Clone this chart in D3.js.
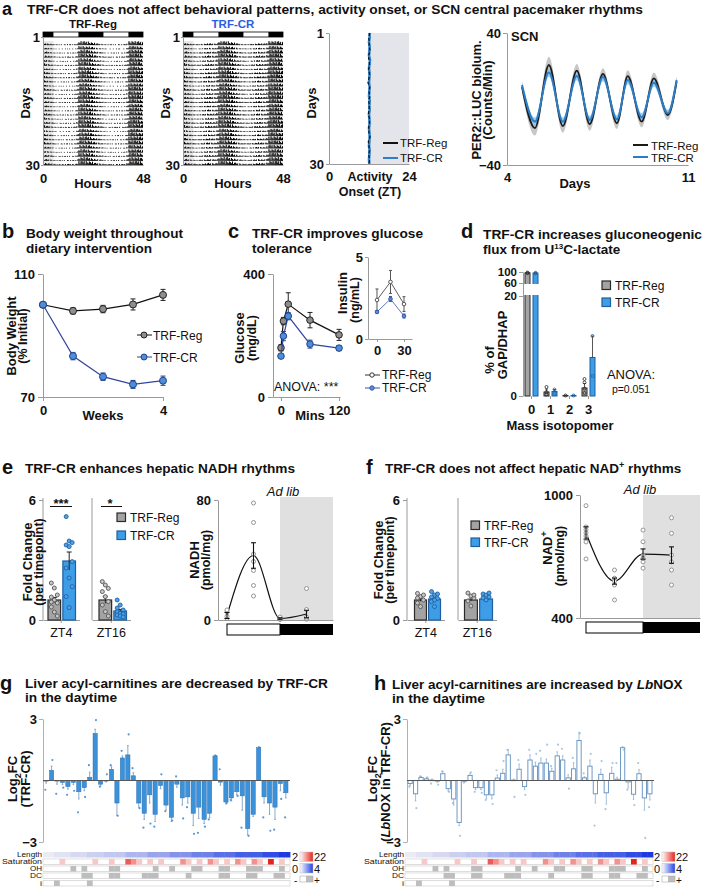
<!DOCTYPE html>
<html><head><meta charset="utf-8">
<script src="https://cdn.jsdelivr.net/npm/d3@7"></script>
<style>body{margin:0;background:#fff}svg{font-family:"Liberation Sans",Arial,Helvetica,sans-serif}</style>
</head><body><svg id="fig" width="705" height="887"></svg>
<script>
// ================= DATA =================
const ldDark = [[0,5],[17,29],[41,48]];
const actoReg = [0.55,0.45,0.4,0.35,0.3,0.25,0.2,0.2,0.22,0.2,0.2,0.22,0.22,0.2,0.22,0.25,0.4,0.95,1,1,0.95,0.9,0.85,0.7];
const actoCR  = [0.6,0.5,0.4,0.35,0.3,0.3,0.25,0.25,0.3,0.3,0.35,0.4,0.45,0.4,0.4,0.4,0.55,1,1,1,1,0.95,0.85,0.75];
const actoDay = [0.9,0.7,0.85,1,0.8,0.95,0.75,0.9,1,0.85,0.7,0.95,0.8,1,0.9,0.75,0.85,0.95,0.8,0.9,1,0.7,0.85,0.9,0.95,0.8,0.75,0.9,0.85,1];
const actoTex = [1,0.55,0.85,0.3,0.95,0.6,0.4,0.9,0.7,0.5,1,0.35,0.8];
const onsetReg = [12.3,11.9,12.1,12.0,12.4,11.8,12.0,12.2,11.9,12.1,12.0,11.7,12.2,12.0,12.3,11.9,12.1,12.0,11.8,12.2,12.1,11.9,12.0,12.3,11.8,12.0,12.1,11.9,12.2,12.0];
const onsetCR  = [12.1,12.2,12.0,12.2,12.1,12.0,12.3,12.1,12.0,12.2,12.1,12.0,12.2,12.1,12.0,12.2,12.1,12.2,12.0,12.1,12.2,12.0,12.1,12.2,12.1,12.0,12.2,12.1,12.0,12.1];
const scnDays  = [4.58,5.08,5.62,6.16,6.70,7.20,7.71,8.25,8.67,9.21,9.68,10.22,10.56];
const scnReg   = [7.3,-17.6,20.6,-16.4,17.2,-15.2,15.2,-14.7,13.9,-13.7,12.5,-9.7,10.5];
const scnRegSem= [3,4.5,5,4,4,4,3.5,3.5,3.5,3.5,3.5,3,3];
const scnCR    = [8.5,-13.7,16,-13.7,13.9,-12.7,13.3,-12.3,11.5,-11.1,9.9,-8.7,11.5];
const scnCRSem = [2,2.5,2.5,2.5,2.5,2.5,2.5,2.5,2.5,2.5,2.5,2,2];
const weeks = [0,1,2,3,4];
const bwReg = [100,98,98.6,100.1,103.2];
const bwRegErr = [0,1,1.2,1.8,1.8];
const bwCR = [100,83.3,76.6,74.1,75.3];
const bwCRErr = [0,1.2,1.2,1.3,1.5];
const gttMins = [0,5,15,60,120];
const gttReg = [160,247,302,250,202];
const gttRegErr = [10,12,37,25,18];
const gttCR = [133,198,263,172,159];
const gttCRErr = [5,15,12,13,8];
const insMins = [0,15,30];
const insReg = [2.38,3.48,2.13];
const insRegErr = [0.67,0.7,0.45];
const insCR = [1.65,2.44,1.40];
const insCRErr = [0.08,0.15,0.12];
const isoLabels = ['0','1','2','3'];
const isoReg = [97,0.8,0.1,1.6];
const isoRegErr = [1,0.6,0.05,0.9];
const isoCR = [96,0.9,0.1,7.7];
const isoCRErr = [1.5,0.4,0.05,4.3];
const isoRegDots = [[98,96],[0.3,0.8,1.8],[0.1],[0.6,1.5,2.7,3.4]];
const isoCRDots = [[97,95],[0.5,1.3],[0.1],[4,12]];
const ztGroups = ['ZT4','ZT16'];
const nadhFoldReg = [1.0,1.0];
const nadhFoldRegErr = [0.13,0.17];
const nadhFoldCR = [2.95,0.45];
const nadhFoldCRErr = [0.45,0.08];
const nadhFoldRegDots = [[1.85,1.6,1.25,1.15,1.0,0.85,0.65,0.4,0.2,0.9],[1.92,1.75,1.58,1.42,1.17,0.92,0.75,0.42,0.2]];
const nadhFoldCRDots = [[5.17,3.95,3.87,3.75,3.67,2.92,2.6,2.1,1.67,1.17,0.62],[1.0,0.75,0.5,0.42,0.33,0.3,0.25,0.2,0.15,0.6]];
const ztTimes = [0,6,12,18];
const nadhMean = [3,43,1,4];
const nadhErr = [2,8.5,0.5,2.5];
const nadhDots = [[1,2.5,5.5,6.7],[78,65,44,39,33,23,16],[0.3,0.8,1.5,2],[0.5,1,2,7,21]];
const nadFoldReg = [1.0,1.0];
const nadFoldRegErr = [0.06,0.05];
const nadFoldCR = [1.05,1.05];
const nadFoldCRErr = [0.05,0.04];
const nadFoldRegDots = [[1.33,1.17,1.0,0.85,0.67,1.25,1.1],[1.35,1.2,1.1,0.95,0.7,1.25]];
const nadFoldCRDots = [[1.42,1.25,1.08,0.92,0.67,1.3,1.15,1.0],[1.3,1.25,1.15,1.1,1.0,1.35]];
const nadMean = [815,580,712,707];
const nadErr = [30,15,25,40];
const nadDots = [[948,844,830,815,800,771,688],[634,594,561,488,580],[829,772,707,674,643,690],[889,813,707,674,634,561]];
const acylG = [-0.03,0.5,-0.03,-0.1,-0.3,-0.1,-0.55,-0.35,0.16,2.3,-0.18,-0.02,0.55,-1.1,1.1,1.25,0.23,-1.1,-1.6,-0.7,-1.65,-0.25,-1.2,-1.8,-0.18,-0.85,-0.8,-1.6,-1.3,-1.9,-1.6,1.2,-0.08,-1.05,-0.85,-0.55,-0.75,-2.35,-1.65,1.6,-0.8,-1.1,-1.3,-0.15,-0.6];
const acylGErr = [0.1,0.2,0.15,0.1,0.12,0.1,0.35,0.15,0.25,0.2,0.1,0.05,0.12,0.6,0.1,0.45,0.15,0.2,0.3,0.4,0.35,0.15,0.25,0.2,0.15,0.35,0.3,0.6,0.55,0.2,0.2,0.05,0.15,0.1,0.15,0.15,0.7,0.3,0.1,0.05,0.3,0.55,0.6,0.35,0.25];
const acylGDot = [-0.45,1.0,-0.65,-0.35,-0.7,-0.5,-1.55,-0.8,0.75,2.95,-0.3,0.3,0.75,-1.72,1.45,2.25,0.6,-1.35,-2.3,-2.1,-2.25,0.3,-1.5,-1.95,0.2,-1.85,-1.3,-2.6,-2.55,-2.25,-1.9,1.2,0.55,-1.1,-0.95,-0.75,-2.3,-2.7,-1.6,1.6,-1.8,-2.45,-2.4,-0.9,-1.8];
const acylH = [-0.15,-0.65,0.15,0.08,0.02,-0.03,0.33,-0.4,-0.9,-2.05,-0.03,0.25,-0.35,-0.35,-0.7,-0.7,0.12,0.35,1.25,0.02,0.55,-0.3,1.0,0.7,0.85,0.85,0.45,1.2,1.0,0.13,0.57,1.95,0.13,0.7,-0.65,0.3,-0.6,0.35,0.06,1.6,-0.07,-0.67,0.33,-0.85,-0.65];
const acylHErr = [0.1,0.35,0.05,0.05,0.05,0.05,0.12,0.12,0.3,0.15,0.05,0.1,0.1,0.1,0.2,0.2,0.15,0.2,0.25,0.05,0.25,0.15,0.25,0.2,0.25,0.2,0.15,0.2,0.2,0.15,0.3,0.4,0.05,0.3,0.45,0.25,0.55,0.3,0.1,0.05,0.3,0.25,0.2,0.6,0.3];
const acylHDot = [-0.3,-1.35,0.2,0.15,-0.15,-0.2,0.45,-0.55,-1.1,-2.7,-0.1,0.4,-0.55,-0.6,-0.95,-1.15,0.5,0.95,1.5,-0.8,1.0,-0.7,1.5,1.3,1.45,1.75,0.7,1.75,1.55,-0.4,1.1,2.3,0.35,1.3,-2.2,0.95,-1.4,0.85,0.85,1.5,-0.45,-1.2,0.85,-2.8,-1.3];
const acylLength = [2,2,3,3,3,4,4,4,5,5,5,6,6,6,6,8,8,8,8,10,10,10,10,12,12,12,12,14,14,14,14,16,16,16,16,18,18,18,18,18,20,20,20,22,22];
const acylSat = [0,0,0,1,0,0,0,0,0,1,0,0,1,0,0,3,2,1,0,1,0,1,0,0,0,2,1,0,1,0,2,1,0,1,0,2,1,0,2,1,0,4,0,1,0];
const acylOH = [5,7,12,13,20,23,27,28,32,33,37,38,39,43];
const acylDC = [7,8,12,13,18,19,20,26,32,33,37,38,42,43];
const acylI = [2,8];

// ================= HELPERS =================
const svg = d3.select('#fig');
const FONT = '"Liberation Sans", Arial, Helvetica, sans-serif';
const AX = '#9a9a9a';
const fmt = d3.format('d');
function txt(x,y,s,o={}){
  const t = svg.append('text').attr('x',x).attr('y',y)
    .attr('font-size',o.size||13).attr('font-weight',o.w||'bold')
    .attr('text-anchor',o.a||'start').attr('fill',o.fill||'#111');
  if(o.it) t.attr('font-style','italic');
  if(o.rot){ t.attr('transform',`rotate(-90,${x},${y})`).attr('text-anchor','middle'); }
  if(Array.isArray(s)){
    s.forEach(p=>{const ts=t.append('tspan').text(p.t);
      if(p.it) ts.attr('font-style','italic');
      if(p.fs) ts.attr('font-size',p.fs);
      if(p.dy!==undefined) ts.attr('dy',p.dy);});
  } else t.text(s);
  if(o.len) t.attr('textLength',o.len).attr('lengthAdjust','spacingAndGlyphs');
  return t;
}
function axis(gen,tx,ty,o={}){
  const g = svg.append('g').attr('transform',`translate(${tx},${ty})`).call(gen);
  g.attr('font-family',FONT);
  g.select('.domain').attr('stroke',o.col||AX).attr('stroke-width',1);
  g.selectAll('.tick line').attr('stroke',o.col||AX);
  g.selectAll('.tick text').attr('font-size',o.fs||13).attr('font-weight',o.fw||'bold').attr('fill','#111').attr('font-family',FONT);
  return g;
}
function errBars(g, pts, col, cap, lw){
  g.selectAll(null).data(pts).join('line').attr('x1',d=>d.x).attr('x2',d=>d.x).attr('y1',d=>d.y1).attr('y2',d=>d.y2).attr('stroke',col).attr('stroke-width',lw||1);
  g.selectAll(null).data(pts).join('line').attr('x1',d=>d.x-cap).attr('x2',d=>d.x+cap).attr('y1',d=>d.y2).attr('y2',d=>d.y2).attr('stroke',col).attr('stroke-width',lw||1);
  g.selectAll(null).data(pts.filter(d=>d.both)).join('line').attr('x1',d=>d.x-cap).attr('x2',d=>d.x+cap).attr('y1',d=>d.y1).attr('y2',d=>d.y1).attr('stroke',col).attr('stroke-width',lw||1);
}
function legendSquare(x,y,fill,stroke,label){
  svg.append('rect').attr('x',x).attr('y',y).attr('width',8.5).attr('height',8.5).attr('fill',fill).attr('stroke',stroke).attr('stroke-width',1.2);
  txt(x+13,y+8.5,label,{size:12,w:'normal'});
}
const GRAYF='#a3a3a3', GRAYS='#2a2a2a', BLUEF='#3d9de6', BLUES='#1f5f9f';

// ================= PANEL A =================
txt(2,15,'a',{size:18});
txt(27,13.5,'TRF-CR does not affect behavioral patterns, activity onset, or SCN central pacemaker rhythms',{size:13.5,len:616});

function actogram(x0,label,lfill,prof){
  const x = d3.scaleLinear().domain([0,48]).range([x0,x0+100]);
  const rows = d3.scaleBand().domain(d3.range(30)).range([41,165]);
  [[0,5],[41,48]].forEach(([a,b])=>svg.append('rect').attr('x',x(a)).attr('y',41).attr('width',x(b)-x(a)).attr('height',124).attr('fill','#e8e8e8'));
  const bins=[];
  actoDay.forEach((f,d)=>{for(let b=0;b<96;b++){const h=b/2;const lev=prof[Math.floor(h)%24]*f*actoTex[(b+5*d)%actoTex.length];if(lev>0.12)bins.push({d,h,lev:Math.min(1,lev*1.2)});}});
  svg.append('g').selectAll('rect').data(bins).join('rect')
    .attr('x',d=>x(d.h)).attr('width',1.05)
    .attr('y',d=>rows(d.d)+rows.bandwidth()*(1-0.95*d.lev)).attr('height',d=>rows.bandwidth()*0.95*d.lev).attr('fill','#000');
  svg.append('rect').attr('x',x(0)).attr('y',32).attr('width',x(48)-x(0)).attr('height',5).attr('fill','#fff').attr('stroke','#000').attr('stroke-width',0.8);
  svg.append('g').selectAll('rect').data(ldDark).join('rect').attr('x',d=>x(d[0])).attr('y',32).attr('width',d=>x(d[1])-x(d[0])).attr('height',5).attr('fill','#000');
  txt(x0+50,28,label,{size:11.5,a:'middle',fill:lfill});
  const dy = d3.scaleLinear().domain([1,30]).range([37,165]);
  axis(d3.axisLeft(dy).tickValues([1,30]).tickFormat(fmt).tickSize(2).tickSizeOuter(0).tickPadding(1),x0,0);
  axis(d3.axisBottom(x).tickValues([0,48]).tickFormat(fmt).tickSize(0).tickSizeOuter(0).tickPadding(9),0,165);
  txt(x0+50,188,'Hours',{a:'middle'});
  txt(x0-13,103,'Days',{rot:true});
}
actogram(43,'TRF-Reg','#111',actoReg);
actogram(183,'TRF-CR','#2a5de0',actoCR);

{
  const x = d3.scaleLinear().domain([0,24]).range([329,409]);
  const y = d3.scaleLinear().domain([1,30]).range([33,164]);
  svg.append('rect').attr('x',x(12)).attr('y',33).attr('width',x(24)-x(12)).attr('height',131).attr('fill','#e4e5ea');
  const ln = d3.line().x(d=>x(d)).y((d,i)=>y(i+1));
  svg.append('path').datum(onsetCR).attr('d',ln).attr('fill','none').attr('stroke','#2f7fc8').attr('stroke-width',2.6);
  svg.append('path').datum(onsetReg).attr('d',ln).attr('fill','none').attr('stroke','#111').attr('stroke-width',1.2).attr('stroke-dasharray','3,2');
  axis(d3.axisLeft(y).tickValues([1,30]).tickFormat(fmt).tickSize(3).tickSizeOuter(0).tickPadding(2),329,0);
  axis(d3.axisBottom(x).tickValues([0,24]).tickFormat(fmt).tickSize(0).tickSizeOuter(0).tickPadding(8),0,164);
  txt(370,181,'Activity',{a:'middle',size:12.5});
  txt(370,195.5,'Onset (ZT)',{a:'middle',size:12.5});
  txt(316,103,'Days',{rot:true});
  svg.append('line').attr('x1',383).attr('x2',398).attr('y1',143).attr('y2',143).attr('stroke','#111').attr('stroke-width',2);
  svg.append('line').attr('x1',383).attr('x2',398).attr('y1',158).attr('y2',158).attr('stroke','#2f7fc8').attr('stroke-width',2);
  txt(400,147,'TRF-Reg',{size:11.5,w:'normal'});
  txt(400,162,'TRF-CR',{size:11.5,w:'normal'});
}
{
  const x = d3.scaleLinear().domain([4,11]).range([507,688]);
  const y = d3.scaleLinear().domain([-40,40]).range([165,33]);
  const area = d3.area().curve(d3.curveMonotoneX).x(d=>x(d[0])).y0(d=>y(d[1]-d[2])).y1(d=>y(d[1]+d[2]));
  const line = d3.line().curve(d3.curveMonotoneX).x(d=>x(d[0])).y(d=>y(d[1]));
  const reg = scnDays.map((d,i)=>[d,scnReg[i],scnRegSem[i]]);
  const cr = scnDays.map((d,i)=>[d,scnCR[i],scnCRSem[i]]);
  svg.append('path').datum(reg).attr('d',area).attr('fill','#b4b4b4').attr('opacity',0.75);
  svg.append('path').datum(cr).attr('d',area).attr('fill','#86c6f0').attr('opacity',0.8);
  svg.append('path').datum(reg).attr('d',line).attr('fill','none').attr('stroke','#1a1a1a').attr('stroke-width',1.8);
  svg.append('path').datum(cr).attr('d',line).attr('fill','none').attr('stroke','#2e7dc4').attr('stroke-width',2);
  axis(d3.axisLeft(y).tickValues([-40,40]).tickFormat(fmt).tickSize(4).tickSizeOuter(0).tickPadding(2),507,0);
  axis(d3.axisBottom(x).tickValues([4,11]).tickFormat(fmt).tickSize(0).tickSizeOuter(0).tickPadding(8),0,165);
  txt(511,41,'SCN');
  txt(575,188,'Days',{a:'middle'});
  txt(481,100,'PER2::LUC biolum.',{rot:true});
  txt(492,100,'(Counts/Min)',{rot:true});
  svg.append('line').attr('x1',633).attr('x2',648).attr('y1',145).attr('y2',145).attr('stroke','#1a1a1a').attr('stroke-width',2);
  svg.append('line').attr('x1',633).attr('x2',648).attr('y1',157).attr('y2',157).attr('stroke','#2e7dc4').attr('stroke-width',2);
  txt(651,149.5,'TRF-Reg',{size:11.5,w:'normal'});
  txt(651,161.5,'TRF-CR',{size:11.5,w:'normal'});
}

// ================= PANEL B =================
txt(2,238,'b',{size:20});
txt(26,238,'Body weight throughout',{size:13.5,len:157});
txt(26,253,'dietary intervention',{size:13.5,len:126});
function series(xs,ys,es,xsc,ysc,lc,fc,sc,r,lw,cap){
  const g = svg.append('g');
  g.append('path').datum(xs.map((d,i)=>[d,ys[i]])).attr('d',d3.line().x(d=>xsc(d[0])).y(d=>ysc(d[1]))).attr('fill','none').attr('stroke',lc).attr('stroke-width',lw);
  const pts = xs.map((d,i)=>({x:xsc(d),y1:ysc(ys[i]-es[i]),y2:ysc(ys[i]+es[i]),both:true})).filter((d,i)=>es[i]>0);
  errBars(g,pts,sc,cap,1);
  g.selectAll('circle').data(xs).join('circle').attr('cx',d=>xsc(d)).attr('cy',(d,i)=>ysc(ys[i])).attr('r',r).attr('fill',fc).attr('stroke',sc).attr('stroke-width',1);
}
{
  const x = d3.scaleLinear().domain([0,4]).range([43,163]);
  const y = d3.scaleLinear().domain([70,110]).range([397,274]);
  axis(d3.axisLeft(y).tickValues([70,110]).tickFormat(fmt).tickSize(5).tickSizeOuter(0).tickPadding(3),43,0);
  axis(d3.axisBottom(x).tickValues([0,4]).tickFormat(fmt).tickSize(4).tickSizeOuter(0).tickPadding(5),0,397);
  series(weeks,bwReg,bwRegErr,x,y,'#111','#8e8e8e','#222',3.5,1.2,2.5);
  series(weeks,bwCR,bwCRErr,x,y,'#33449c','#4c8fd8','#24408c',3.5,1.2,2.5);
  txt(103,420,'Weeks',{a:'middle'});
  txt(16,336,'Body Weight',{rot:true});
  txt(27,336,'(% Initial)',{rot:true,size:12.5});
  svg.append('line').attr('x1',137).attr('x2',152).attr('y1',335).attr('y2',335).attr('stroke','#111');
  svg.append('circle').attr('cx',144).attr('cy',335).attr('r',3).attr('fill','#8e8e8e').attr('stroke','#222');
  txt(153,339.5,'TRF-Reg',{size:12,w:'normal'});
  svg.append('line').attr('x1',137).attr('x2',152).attr('y1',357).attr('y2',357).attr('stroke','#33449c');
  svg.append('circle').attr('cx',144).attr('cy',357).attr('r',3).attr('fill','#4c8fd8').attr('stroke','#24408c');
  txt(153,361.5,'TRF-CR',{size:12,w:'normal'});
}

// ================= PANEL C =================
txt(228,238,'c',{size:20});
txt(252,238,'TRF-CR improves glucose',{size:13.5,len:171});
txt(252,253,'tolerance',{size:13.5,len:60});
{
  const x = d3.scaleLinear().domain([-16.5,122]).range([273,340]);
  const y = d3.scaleLinear().domain([0,400]).range([397,274]);
  axis(d3.axisLeft(y).tickValues([0,400]).tickFormat(fmt).tickSize(5).tickSizeOuter(0).tickPadding(3),273,0);
  axis(d3.axisBottom(x).tickValues([0,120]).tickFormat(fmt).tickSize(4).tickSizeOuter(0).tickPadding(5),0,397);
  series(gttMins,gttReg,gttRegErr,x,y,'#111','#8e8e8e','#222',3.3,1.2,2.5);
  series(gttMins,gttCR,gttCRErr,x,y,'#33449c','#4c8fd8','#24408c',3.3,1.2,2.5);
  txt(310,420,'Mins',{a:'middle'});
  txt(244,338,'Glucose',{rot:true});
  txt(256,338,'(mg/dL)',{rot:true,size:12.5});
  txt(274,391,'ANOVA: ***',{size:12.5,w:'normal'});
  const xi = d3.scaleLinear().domain([-10,38.9]).range([368,412]);
  const yi = d3.scaleLinear().domain([0,5]).range([339,257]);
  axis(d3.axisLeft(yi).tickValues([0,5]).tickFormat(fmt).tickSize(3).tickSizeOuter(0).tickPadding(2),368,0);
  axis(d3.axisBottom(xi).tickValues([0,30]).tickFormat(fmt).tickSize(3).tickSizeOuter(0).tickPadding(4),0,339);
  series(insMins,insReg,insRegErr,xi,yi,'#333','#fff','#555',1.8,0.8,1.5);
  series(insMins,insCR,insCRErr,xi,yi,'#3a55b0','#5a90d8','#3a55b0',1.8,0.8,1.5);
  txt(347,293,'Insulin',{rot:true});
  txt(359,300,'(ng/mL)',{rot:true,size:12.5});
  svg.append('line').attr('x1',365).attr('x2',380).attr('y1',375).attr('y2',375).attr('stroke','#333');
  svg.append('circle').attr('cx',372).attr('cy',375).attr('r',2.2).attr('fill','#fff').attr('stroke','#333');
  txt(382,379,'TRF-Reg',{size:12,w:'normal'});
  svg.append('line').attr('x1',365).attr('x2',380).attr('y1',388).attr('y2',388).attr('stroke','#3a55b0');
  svg.append('circle').attr('cx',372).attr('cy',388).attr('r',2.2).attr('fill','#5a90d8').attr('stroke','#3a55b0');
  txt(382,392,'TRF-CR',{size:12,w:'normal'});
}

// ================= PANEL D =================
txt(461,238,'d',{size:20});
txt(483,239,'TRF-CR increases gluconeogenic',{size:13.5,len:219});
txt(483,254,[{t:'flux from U'},{t:'13',fs:8,dy:-5},{t:'C-lactate',dy:5}],{size:13.5});
{
  const y = d3.scaleLinear().domain([0,20,60,100]).range([396,296,283,272]);
  const xb = d3.scaleBand().domain(isoLabels).range([522,598]);
  axis(d3.axisLeft(y).tickValues([0,20,60,100]).tickFormat(fmt).tickSize(4).tickSizeOuter(0).tickPadding(2),523,0,{fs:11.5});
  axis(d3.axisBottom(xb).tickSize(3).tickSizeOuter(0).tickPadding(6),0,396).select('.domain').attr('stroke','none');
  const g = svg.append('g');
  const bars = [];
  isoLabels.forEach((l,i)=>{
    bars.push({x:xb(l)+xb.bandwidth()/2-6.5,v:isoReg[i],e:isoRegErr[i],f:GRAYF,s:GRAYS,dots:isoRegDots[i]});
    bars.push({x:xb(l)+xb.bandwidth()/2+1.5,v:isoCR[i],e:isoCRErr[i],f:BLUEF,s:BLUES,dots:isoCRDots[i]});
  });
  g.selectAll('rect').data(bars).join('rect').attr('x',d=>d.x).attr('width',5).attr('y',d=>y(d.v)).attr('height',d=>396-y(d.v)).attr('fill',d=>d.f).attr('stroke',d=>d.s).attr('stroke-width',1);
  svg.append('rect').attr('x',524).attr('y',284).attr('width',70).attr('height',11).attr('fill','#fff');
  errBars(g,bars.map(d=>({x:d.x+2.5,y1:y(d.v),y2:y(d.v+d.e)})),'#444',1.5,0.9);
  const dots=[];bars.forEach(b=>b.dots.forEach(v=>dots.push({x:b.x+2.5,v,s:b.s})));
  g.selectAll('circle').data(dots).join('circle').attr('cx',d=>d.x).attr('cy',d=>y(d.v)).attr('r',1.5).attr('fill','none').attr('stroke',d=>d.s).attr('stroke-width',0.8);
  txt(560,430,'Mass isotopomer',{a:'middle'});
  txt(494,360,'% of',{rot:true});
  txt(507,345,'GAP/DHAP',{rot:true});
  legendSquare(602,281,GRAYF,GRAYS,'TRF-Reg');
  legendSquare(602,298,BLUEF,BLUES,'TRF-CR');
  txt(631,379,'ANOVA:',{size:13,w:'normal',a:'middle'});
  txt(631,393,'p=0.051',{size:10.5,w:'normal',a:'middle'});
}

// ================= PANEL E / F =================
function foldPanel(axX1,axX2,rng1,rng2,reg,regE,cr,crE,regD,crD){
  const y = d3.scaleLinear().domain([0,6]).range([620,500]);
  const axXs=[axX1,axX2], rngs=[rng1,rng2];
  ztGroups.forEach((zt,k)=>{
    axis(d3.axisLeft(y).tickValues(k===0?[0,6]:[]).tickFormat(fmt).tickSize(4).tickSizeOuter(0).tickPadding(3),axXs[k],0).select('.domain').attr('d',`M0,498V620`);
    const xa = d3.scaleBand().domain([zt]).range([axXs[k],rngs[k][1]+4]);
    axis(d3.axisBottom(xa).tickSize(3).tickSizeOuter(0).tickPadding(5),0,620,{fw:'normal',fs:12.5});
    const xb = d3.scaleBand().domain(['TRF-Reg','TRF-CR']).range(rngs[k]).paddingInner(0.15);
    const g = svg.append('g');
    const bars=[{n:'TRF-Reg',v:reg[k],e:regE[k],f:GRAYF,s:GRAYS,d:regD[k],df:'#c8c8c8',ds:'#555'},{n:'TRF-CR',v:cr[k],e:crE[k],f:BLUEF,s:BLUES,d:crD[k],df:'#4da3ea',ds:'#1f5f9f'}];
    g.selectAll('rect').data(bars).join('rect').attr('x',d=>xb(d.n)).attr('width',xb.bandwidth()).attr('y',d=>y(d.v)).attr('height',d=>620-y(d.v)).attr('fill',d=>d.f).attr('stroke',d=>d.s).attr('stroke-width',1.2);
    errBars(g,bars.map(d=>({x:xb(d.n)+xb.bandwidth()/2,y1:y(d.v-d.e),y2:y(d.v+d.e),both:false})),'#222',2.5,1);
    const dots=[];bars.forEach(b=>b.d.forEach((v,j)=>dots.push({x:xb(b.n)+xb.bandwidth()/2+((j%3)-1)*3,v,f:b.df,s:b.ds})));
    g.selectAll('circle').data(dots).join('circle').attr('cx',d=>d.x).attr('cy',d=>y(d.v)).attr('r',2).attr('fill',d=>d.f).attr('stroke',d=>d.s).attr('stroke-width',0.9);
  });
}
function ztPanel(x0,xEnd,xZero,yDom,yRng,yTicks,mean,err,dots,shadeTop){
  const x = d3.scaleLinear().domain([ -(xZero-x0)/((xEnd-xZero)/24),24]).range([x0,xEnd]);
  const y = d3.scaleLinear().domain(yDom).range(yRng);
  svg.append('rect').attr('x',x(12)).attr('y',shadeTop).attr('width',x(24)-x(12)).attr('height',yRng[0]-shadeTop).attr('fill','#e0e0e0');
  axis(d3.axisLeft(y).tickValues(yTicks).tickFormat(fmt).tickSize(4).tickSizeOuter(0).tickPadding(3),x0,0);
  axis(d3.axisBottom(x).tickValues([]).tickSizeOuter(0),0,yRng[0]);
  const pts = ztTimes.map((t,i)=>[t,mean[i]]);
  svg.append('path').datum(pts).attr('d',d3.line().curve(d3.curveMonotoneX).x(d=>x(d[0])).y(d=>y(d[1]))).attr('fill','none').attr('stroke','#111').attr('stroke-width',1.2);
  const g=svg.append('g');
  const dd=[];dots.forEach((arr,i)=>arr.forEach(v=>dd.push({x:x(ztTimes[i]),v})));
  g.selectAll('circle').data(dd).join('circle').attr('cx',d=>d.x).attr('cy',d=>y(d.v)).attr('r',2).attr('fill','#fff').attr('stroke','#8a8a8a').attr('stroke-width',0.9);
  errBars(g,ztTimes.map((t,i)=>({x:x(t),y1:y(mean[i]-err[i]),y2:y(mean[i]+err[i]),both:true})),'#111',2.5,1.1);
  svg.append('rect').attr('x',x(0)).attr('y',yRng[0]+4).attr('width',x(12)-x(0)).attr('height',11).attr('fill','#fff').attr('stroke','#000').attr('stroke-width',1);
  svg.append('rect').attr('x',x(12)).attr('y',yRng[0]+4).attr('width',x(24)-x(12)).attr('height',11).attr('fill','#000');
}
txt(2,474,'e',{size:20});
txt(25,473,'TRF-CR enhances hepatic NADH rhythms',{size:13.5,len:270});
foldPanel(43,92,[48,75.5],[99,126.5],nadhFoldReg,nadhFoldRegErr,nadhFoldCR,nadhFoldCRErr,nadhFoldRegDots,nadhFoldCRDots);
txt(32,562,'Fold Change',{rot:true});
txt(43,562,'(per timepoint)',{rot:true,size:12.5});
txt(61,508,'***',{a:'middle',size:13});
svg.append('line').attr('x1',50).attr('x2',72).attr('y1',506.5).attr('y2',506.5).attr('stroke','#111');
txt(110,508,'*',{a:'middle',size:13});
svg.append('line').attr('x1',101).attr('x2',122).attr('y1',506.5).attr('y2',506.5).attr('stroke','#111');
legendSquare(117,513,GRAYF,GRAYS,'TRF-Reg');
legendSquare(117,531,BLUEF,BLUES,'TRF-CR');
ztPanel(218,333,227,[0,80],[620,500],[0,80],nadhMean,nadhErr,nadhDots,497);
txt(283,496,'Ad lib',{it:true,w:'normal',size:13,a:'middle'});
txt(199,560,'NADH',{rot:true});
txt(210,560,'(pmol/mg)',{rot:true,size:12.5});
txt(366,474,'f',{size:20});
txt(385,473,[{t:'TRF-CR does not affect hepatic NAD'},{t:'+',fs:9,dy:-5},{t:' rhythms',dy:5}],{size:13.5});
foldPanel(407,458,[414.5,440.5],[464.5,492.5],nadFoldReg,nadFoldRegErr,nadFoldCR,nadFoldCRErr,nadFoldRegDots,nadFoldCRDots);
txt(383,560,'Fold Change',{rot:true});
txt(394,560,'(per timepoint)',{rot:true,size:12.5});
legendSquare(471,521,GRAYF,GRAYS,'TRF-Reg');
legendSquare(471,538,BLUEF,BLUES,'TRF-CR');
ztPanel(580,700,586,[400,1000],[618,495],[400,1000],nadMean,nadErr,nadDots,495);
txt(640,494,'Ad lib',{it:true,w:'normal',size:13,a:'middle'});
txt(552,548,[{t:'NAD'},{t:'+',fs:9,dy:-5}],{rot:true});
txt(564,556,'(pmol/mg)',{rot:true,size:12.5});

// ================= PANELS G / H =================
function acylPanel(x0,x1,vals,errs,dots,filled){
  const y = d3.scaleLinear().domain([-3,3]).range([842,719]);
  const xb = d3.scaleBand().domain(d3.range(vals.length)).range([x0+1,x1]).paddingInner(0.22);
  axis(d3.axisLeft(y).tickValues([-3,3]).tickFormat(fmt).tickSize(4).tickSizeOuter(0).tickPadding(2),x0,0,{col:'#b0b0b0'});
  const g = svg.append('g');
  const cx = i=>xb(i)+xb.bandwidth()/2;
  const sc = filled?'#2a70b8':'#5f8fbf';
  g.selectAll('circle').data(dots).join('circle').attr('cx',(d,i)=>cx(i)+(i%2?0.8:-0.8)).attr('cy',d=>y(d)).attr('r',1.1).attr('fill',filled?'#5b97d6':'#a9c6e2');
  errBars(g,vals.map((v,i)=>({x:cx(i),y1:y(v),y2:y(v+(v>=0?1:-1)*errs[i])})),filled?'#6f93bb':'#8fb0d0',0.8,0.8);
  g.selectAll('rect').data(vals).join('rect').attr('x',(d,i)=>xb(i)).attr('width',xb.bandwidth())
    .attr('y',d=>Math.min(y(d),y(0))).attr('height',d=>Math.max(0.6,Math.abs(y(d)-y(0))))
    .attr('fill',filled?'#3b92d8':'#fff').attr('fill-opacity',filled?1:0.2).attr('stroke',sc).attr('stroke-width',filled?0.5:0.9);
  svg.append('line').attr('x1',x0).attr('x2',x1+2).attr('y1',y(0)).attr('y2',y(0)).attr('stroke','#555').attr('stroke-width',1);
}
function heatmap(x0,x1,legX){
  const hx = d3.scaleBand().domain(d3.range(acylLength.length)).range([x0,x1]);
  const rowsY=[852,859,866,873,880.5], rh=5.5;
  const lens=[25,40,12,12,2];
  ['Length','Saturation','OH','DC','i'].forEach((n,r)=>txt(x0-1,rowsY[r]+5,n,{size:7,w:'normal',a:'end',len:lens[r]}));
  const lenC = d3.scaleLinear().domain([2,22]).range(['#ebebf3','#1d39e2']);
  const satC = d3.scaleLinear().domain([0,4]).range(['#ffffff','#e8231c']);
  svg.append('g').selectAll('rect').data(acylLength).join('rect').attr('x',(d,i)=>hx(i)).attr('y',rowsY[0]).attr('width',hx.bandwidth()+0.4).attr('height',rh).attr('fill',d=>lenC(d));
  svg.append('rect').attr('x',x0).attr('y',rowsY[1]).attr('width',x1-x0).attr('height',rh).attr('fill','#fff').attr('stroke','#c8c8c8').attr('stroke-width',0.6);
  svg.append('g').selectAll('rect').data(acylSat).join('rect').attr('x',(d,i)=>hx(i)).attr('y',rowsY[1]).attr('width',hx.bandwidth()+0.3).attr('height',rh).attr('fill',d=>d>0?satC(d):'none');
  [acylOH,acylDC,acylI].forEach((arr,k)=>{
    svg.append('rect').attr('x',x0).attr('y',rowsY[2+k]).attr('width',x1-x0).attr('height',rh).attr('fill','#fff').attr('stroke','#c8c8c8').attr('stroke-width',0.6);
    svg.append('g').selectAll('rect').data(arr).join('rect').attr('x',d=>hx(d)).attr('y',rowsY[2+k]).attr('width',hx.bandwidth()+0.3).attr('height',rh).attr('fill','#bdbdbd');
  });
  const LF = 10;
  txt(legX,861,'2',{size:LF+1,w:'normal'});
  svg.append('rect').attr('x',legX+8).attr('y',852).attr('width',13).attr('height',9.5).attr('fill','url(#gRed)').attr('stroke','#bbb').attr('stroke-width',0.5);
  txt(legX+22,861,'22',{size:LF+1,w:'normal'});
  txt(legX,872.5,'0',{size:LF+1,w:'normal'});
  svg.append('rect').attr('x',legX+8).attr('y',863.5).attr('width',13).attr('height',9.5).attr('fill','url(#gBlue)').attr('stroke','#bbb').attr('stroke-width',0.5);
  txt(legX+22,872.5,'4',{size:LF+1,w:'normal'});
  txt(legX+2,883.5,'-',{size:LF,w:'normal'});
  svg.append('rect').attr('x',legX+8).attr('y',876).attr('width',13).attr('height',6).attr('fill','url(#gGray)').attr('stroke','#aaa').attr('stroke-width',0.6);
  txt(legX+22,884,'+',{size:LF,w:'normal'});
}
const defs = svg.append('defs');
[['gRed','#ffffff','#e8231c'],['gBlue','#ffffff','#2443e4']].forEach(([id,a,b])=>{
  const lg=defs.append('linearGradient').attr('id',id);
  lg.append('stop').attr('offset','0%').attr('stop-color',a);
  lg.append('stop').attr('offset','100%').attr('stop-color',b);
});
{const lg=defs.append('linearGradient').attr('id','gGray');
 lg.append('stop').attr('offset','50%').attr('stop-color','#fff');lg.append('stop').attr('offset','50%').attr('stop-color','#bdbdbd');}

txt(0,690,'g',{size:20});
txt(25,688,'Liver acyl-carnitines are decreased by TRF-CR',{size:13.5,len:303});
txt(25,702,'in the daytime',{size:13.5,len:92});
acylPanel(43,288,acylG,acylGErr,acylGDot,true);
txt(17,779,[{t:'Log'},{t:'2',fs:9,dy:4},{t:'FC',dy:-4}],{rot:true});
txt(30,779,'(TRF-CR)',{rot:true});
heatmap(43,290,292);

txt(374,690,'h',{size:20});
txt(392,689,[{t:'Liver acyl-carnitines are increased by '},{t:'Lb',it:true},{t:'NOX'}],{size:13.5});
txt(392,703,'in the daytime',{size:13.5,len:93});
acylPanel(407,652,acylH,acylHErr,acylHDot,false);
txt(377,779,[{t:'Log'},{t:'2',fs:9,dy:4},{t:'FC',dy:-4}],{rot:true});
txt(390,782,[{t:'('},{t:'Lb',it:true},{t:'NOX in TRF-CR)'}],{rot:true});
heatmap(405,653,654);
</script></body></html>
